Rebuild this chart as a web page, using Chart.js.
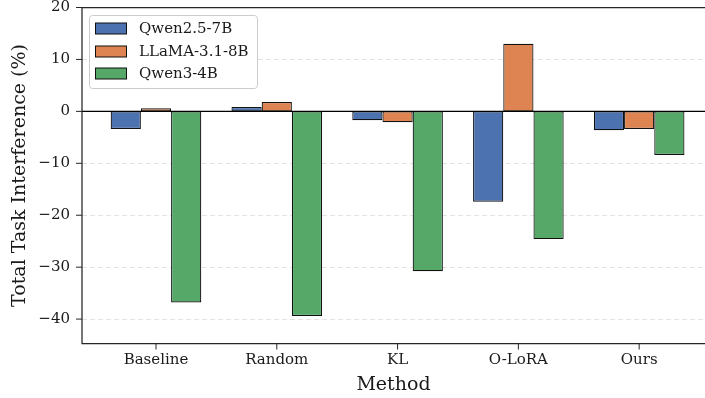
<!DOCTYPE html>
<html>
<head>
<meta charset="utf-8">
<script src="https://cdn.jsdelivr.net/npm/chart.js@4.4.0/dist/chart.umd.min.js"></script>
<style>
  html, body { margin: 0; padding: 0; background: #fff; }
  #wrap { width: 705px; height: 398px; }
</style>
</head>
<body>
<div id="wrap"><canvas id="c" width="705" height="398"></canvas></div>
<script>
const categories = ['Baseline', 'Random', 'KL', 'O-LoRA', 'Ours'];
const seriesNames = ['Qwen2.5-7B', 'LLaMA-3.1-8B', 'Qwen3-4B'];
const qwen25 = [-3.4, 0.85, -1.7, -17.4, -3.65];
const llama31 = [0.6, 1.8, -2.1, 13.0, -3.4];
const qwen3 = [-36.8, -39.4, -30.8, -24.6, -8.4];
const yTicks = [-40, -30, -20, -10, 0, 10, 20];
const colors = ['#4C72B0', '#DD8452', '#55A868'];
const FONT = "'DejaVu Serif', serif";

const seriesValues = [qwen25, llama31, qwen3];
const datasets = seriesValues.map((vals, s) => ({
  label: seriesNames[s],
  data: vals.map((v, i) => ({ x: i, y: v })),
  backgroundColor: colors[s],
  borderColor: '#111111',
  borderWidth: 1.2,
  borderSkipped: false,
  categoryPercentage: 0.75,
  barPercentage: 1.0
}));

const decor = {
  id: 'decor',
  beforeDatasetsDraw(chart) {
    const { ctx, chartArea: a, scales: { x, y } } = chart;
    ctx.save();
    ctx.strokeStyle = '#dcdcdc';
    ctx.lineWidth = 0.8;
    ctx.setLineDash([5, 3]);
    yTicks.forEach(t => {
      if (t === 0 || t === 20) return;
      const py = Math.round(y.getPixelForValue(t)) + 0.5;
      ctx.beginPath(); ctx.moveTo(a.left, py); ctx.lineTo(a.right, py); ctx.stroke();
    });
    ctx.restore();
  },
  afterDatasetsDraw(chart) {
    const { ctx, chartArea: a, scales: { x, y } } = chart;
    ctx.save();
    ctx.strokeStyle = '#000';
    ctx.lineWidth = 1.2;
    const z = y.getPixelForValue(0);
    ctx.beginPath(); ctx.moveTo(a.left, z); ctx.lineTo(a.right, z); ctx.stroke();
    ctx.strokeStyle = '#262626';
    ctx.lineWidth = 1.25;
    ctx.beginPath();
    ctx.moveTo(a.right + 2, a.top); ctx.lineTo(a.left, a.top);
    ctx.lineTo(a.left, a.bottom); ctx.lineTo(a.right + 2, a.bottom);
    ctx.stroke();
    ctx.lineWidth = 1;
    yTicks.forEach(t => {
      const py = y.getPixelForValue(t);
      ctx.beginPath(); ctx.moveTo(a.left - 6, py); ctx.lineTo(a.left, py); ctx.stroke();
    });
    categories.forEach((c, i) => {
      const px = x.getPixelForValue(i);
      ctx.beginPath(); ctx.moveTo(px, a.bottom); ctx.lineTo(px, a.bottom + 6); ctx.stroke();
    });
    const lx = 89.5, ly = 15.5, lw = 168, lh = 73;
    ctx.fillStyle = 'rgba(255,255,255,0.85)';
    ctx.strokeStyle = '#cccccc';
    ctx.lineWidth = 1;
    ctx.beginPath();
    ctx.roundRect(lx, ly, lw, lh, 3);
    ctx.fill(); ctx.stroke();
    ctx.font = '15px ' + FONT;
    ctx.textBaseline = 'middle';
    ctx.textAlign = 'left';
    const rows = [28.5, 51.5, 73.5];
    seriesNames.forEach((n, s) => {
      const cy = rows[s];
      ctx.fillStyle = colors[s];
      ctx.fillRect(95.5, cy - 5.5, 31, 11);
      ctx.strokeStyle = '#111111';
      ctx.strokeRect(95.5, cy - 5.5, 31, 11);
      ctx.fillStyle = '#1a1a1a';
      ctx.fillText(n, 139, cy + 1);
    });
    ctx.restore();
  }
};

new Chart(document.getElementById('c'), {
  type: 'bar',
  data: { datasets },
  options: {
    responsive: false,
    animation: false,
    devicePixelRatio: 1,
    layout: { padding: { top: 7.5, right: 0, left: 0, bottom: 0 } },
    plugins: { legend: { display: false }, tooltip: { enabled: false } },
    scales: {
      x: {
        type: 'linear',
        min: -0.6125,
        max: 4.545,
        offset: false,
        grid: { display: false, drawTicks: false },
        border: { display: false },
        afterBuildTicks(s) { s.ticks = categories.map((c, i) => ({ value: i })); },
        afterFit(s) { s.height = 54.5; s.paddingLeft = 0; s.paddingRight = 0; },
        ticks: {
          autoSkip: false,
          maxRotation: 0,
          padding: 8,
          color: '#1a1a1a',
          font: { family: FONT, size: 15 },
          callback: (v) => categories[v] !== undefined ? categories[v] : ''
        },
        title: {
          display: true,
          text: 'Method',
          color: '#1a1a1a',
          font: { family: FONT, size: 19 },
          padding: { top: 0, bottom: 2 }
        }
      },
      y: {
        type: 'linear',
        min: -44.7,
        max: 20,
        grid: { display: false, drawTicks: false },
        border: { display: false },
        afterBuildTicks(s) { s.ticks = yTicks.map(v => ({ value: v })); },
        afterFit(s) { s.width = 82; s.paddingTop = 0; s.paddingBottom = 0; },
        ticks: {
          padding: 12,
          color: '#1a1a1a',
          font: { family: FONT, size: 15 },
          callback: (v) => v < 0 ? '\u2212' + Math.abs(v) : String(v)
        },
        title: {
          display: true,
          text: 'Total Task Interference (%)',
          color: '#1a1a1a',
          font: { family: FONT, size: 19 },
          padding: { top: 9, bottom: 0 }
        }
      }
    }
  },
  plugins: [decor]
});
</script>
</body>
</html>
